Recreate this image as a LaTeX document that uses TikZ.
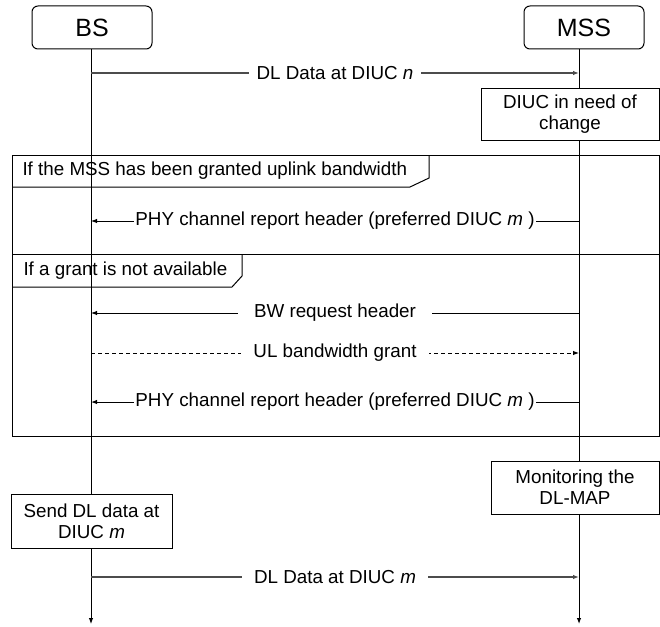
\documentclass[tikz,border=0pt]{standalone}
\usepackage{fontspec}
\setmainfont{Liberation Sans}
\usetikzlibrary{arrows.meta}
\begin{document}
\begin{tikzpicture}[x=1pt,y=-1pt,line width=1pt,
  every node/.style={font=\fontsize{18.8}{21}\selectfont},
  tip/.style={-{Latex[length=6pt,width=4.5pt]}},
  actor/.style={draw,rounded corners=6pt,minimum width=120pt,minimum height=43pt,inner sep=0pt,font=\fontsize{25}{28}\selectfont},
  actbox/.style={draw,fill=white,align=center,inner sep=0pt},
  msglabel/.style={fill=white,inner ysep=1pt},
  dataline/.style={draw=black!70,line width=1.2pt},
  framestyle/.style={draw=black,line width=1pt}
]
\useasboundingbox (0,0) rectangle (660,626);

% frames
\draw[framestyle] (12,155) rectangle (659,254);
\draw[framestyle] (12,254) rectangle (659,436);
\draw[framestyle] (429,155) -- (429,178) -- (410,187) -- (12,187);
\draw[framestyle] (242,254) -- (242,276) -- (232,287) -- (12,287);
\node[anchor=west,inner sep=0pt] (f1label) at (22,171) {If the MSS has been granted uplink bandwidth};
\node[anchor=west,inner sep=0pt] (f2label) at (23,270.5) {If a grant is not available};

% actors
\node[actor] (bs) at (92,27.5) {BS};
\node[actor] (mss) at (584,27.5) {MSS};

% activity boxes
\node[actbox,minimum width=178pt,minimum height=52pt] (diuc) at (570,114) {DIUC in need of\\change};
\node[actbox,minimum width=168pt,minimum height=53pt] (mon) at (575,487.5) {Monitoring the\\DL-MAP};
\node[actbox,minimum width=161pt,minimum height=54pt] (send) at (91.5,521) {Send DL data at\\DIUC \textit{m}};

% lifeline end points
\coordinate (bsEnd) at (91,624);
\coordinate (mssEnd) at (579,624);

% lifelines
\draw (bs.south -| bsEnd) -- (send.north -| bsEnd);
\draw[tip] (send.south -| bsEnd) -- (bsEnd);
\draw (mss.south -| mssEnd) -- (diuc.north -| mssEnd);
\draw (diuc.south -| mssEnd) -- (mon.north -| mssEnd);
\draw[tip] (mon.south -| mssEnd) -- (mssEnd);

% message coordinates
\coordinate (b1) at (91,73);   \coordinate (m1) at (579,73);
\coordinate (b2) at (91,221);  \coordinate (m2) at (579,221);
\coordinate (b3) at (91,313);  \coordinate (m3) at (579,313);
\coordinate (b4) at (91,353);  \coordinate (m4) at (579,353);
\coordinate (b5) at (91,402);  \coordinate (m5) at (579,402);
\coordinate (b6) at (91,577);  \coordinate (m6) at (579,577);

% messages
\draw[tip,dataline] (b1) -- (m1) node[midway,msglabel,inner xsep=8pt] (t1) {DL Data at DIUC \textit{n}};
\draw[tip] (m2) -- (b2) node[midway,msglabel,inner xsep=1pt] (t2) {PHY channel report header (preferred DIUC \textit{m} )};
\draw[tip] (m3) -- (b3) node[midway,msglabel,inner xsep=16pt] (t3) {BW request header};
\draw[tip,dash pattern=on 4pt off 3pt] (b4) -- (m4) node[midway,msglabel,inner xsep=12pt] (t4) {UL bandwidth grant};
\draw[tip] (m5) -- (b5) node[midway,msglabel,inner xsep=1pt] (t5) {PHY channel report header (preferred DIUC \textit{m} )};
\draw[tip,dataline] (b6) -- (m6) node[midway,msglabel,inner xsep=12pt] (t6) {DL Data at DIUC \textit{m}};
\end{tikzpicture}
\end{document}
